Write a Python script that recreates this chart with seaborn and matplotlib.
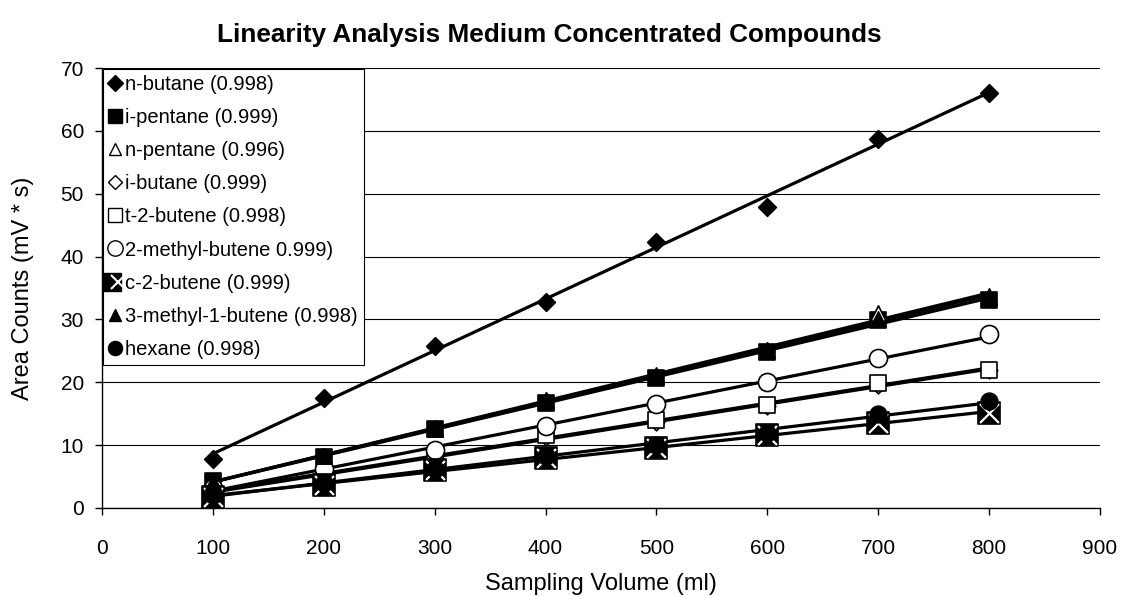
import numpy as np
import pandas as pd
import matplotlib
matplotlib.use("Agg")
import matplotlib.pyplot as plt
from matplotlib.lines import Line2D
from matplotlib.legend_handler import HandlerTuple
import seaborn as sns

volume = [100, 200, 300, 400, 500, 600, 700, 800]
n_butane = [7.8, 17.5, 25.8, 32.8, 42.3, 47.9, 58.7, 66.1]
i_pentane = [4.3, 8.1, 12.5, 16.7, 20.7, 24.8, 29.9, 33.1]
n_pentane = [4.2, 8.3, 12.7, 17.2, 21.2, 25.2, 31.0, 33.6]
i_butane = [2.5, 5.2, 8.0, 11.3, 13.7, 16.3, 19.5, 22.0]
t_2_butene = [2.6, 5.3, 8.2, 11.6, 14.0, 16.4, 19.9, 21.9]
methyl_butene = [3.2, 6.2, 9.3, 13.0, 16.5, 20.0, 23.8, 27.6]
c_2_butene = [1.8, 3.7, 6.0, 8.0, 9.6, 11.6, 13.5, 15.1]
methyl_1_butene = [4.2, 8.3, 12.6, 17.2, 21.0, 25.1, 30.0, 33.8]
hexane = [2.0, 4.0, 6.2, 8.3, 10.0, 12.0, 14.9, 17.0]

labels = ["n-butane (0.998)", "i-pentane (0.999)", "n-pentane (0.996)",
          "i-butane (0.999)", "t-2-butene (0.998)", "2-methyl-butene 0.999)",
          "c-2-butene (0.999)", "3-methyl-1-butene (0.998)", "hexane (0.998)"]
series = [n_butane, i_pentane, n_pentane, i_butane, t_2_butene,
          methyl_butene, c_2_butene, methyl_1_butene, hexane]

# marker, markersize(pt), filled
styles = [("D", 9, True), ("s", 12, True), ("^", 11, False), ("D", 8.5, False),
          ("s", 12, False), ("o", 13, False), ("s", 16, True), ("^", 11, True),
          ("o", 12, True)]

sns.set_theme(style="white")
plt.rcParams["font.family"] = ["Liberation Sans", "DejaVu Sans"]
plt.rcParams["text.color"] = "black"

fig = plt.figure(figsize=(11.22, 5.96), dpi=100)
ax = fig.add_axes([0.0909, 0.1477, 0.8895, 0.7382])

for ys in series:
    sns.regplot(x=volume, y=ys, scatter=False, ci=None, truncate=True, ax=ax,
                line_kws=dict(color="black", lw=2.3, zorder=3))

handles = []
for i, (ys, (m, ms, filled)) in enumerate(zip(series, styles)):
    face = "black" if filled else "white"
    sns.scatterplot(x=volume, y=ys, marker=m, s=ms ** 2, color=face,
                    edgecolor="black", linewidth=1.2, ax=ax, zorder=4 + i * 0.1)
    h = Line2D([], [], ls="none", marker=m, markersize=ms * 0.85,
               markerfacecolor=face, markeredgecolor="black", markeredgewidth=1.0)
    if i == 6:
        ax.scatter(volume, ys, marker="x", s=(ms * 0.85) ** 2, c="white",
                   linewidths=1.6, zorder=4 + i * 0.1 + 0.05)
        hx = Line2D([], [], ls="none", marker="x", markersize=ms * 0.65,
                    color="white", markeredgecolor="white", markeredgewidth=1.5)
        h = (h, hx)
    handles.append(h)

ax.set_xlim(0, 900)
ax.set_ylim(0, 70)
ax.set_xticks(range(0, 901, 100))
ax.set_yticks(range(0, 71, 10))
ax.yaxis.grid(True, color="black", lw=0.8)
ax.xaxis.grid(False)
ax.set_axisbelow(True)
for s in ["top", "right"]:
    ax.spines[s].set_visible(False)
for s in ["left", "bottom"]:
    ax.spines[s].set_color("black")
    ax.spines[s].set_linewidth(1.0)
ax.tick_params(axis="both", direction="out", length=5, width=1, color="black",
               labelsize=15, labelcolor="black", bottom=True, left=True)
ax.tick_params(axis="x", pad=17)
ax.tick_params(axis="y", pad=8)
ax.set_xlabel("Sampling Volume (ml)", fontsize=17, color="black")
ax.set_ylabel("Area Counts (mV * s)", fontsize=17, color="black")
ax.xaxis.set_label_coords(0.5, -0.148)
ax.yaxis.set_label_coords(-0.068, 0.5)
fig.suptitle("Linearity Analysis Medium Concentrated Compounds", fontsize=18.8,
             fontweight="bold", color="black", x=0.49, y=0.962)

leg = ax.legend(handles, labels, loc="upper left", bbox_to_anchor=(0.0, 1.0),
                borderaxespad=0.05, frameon=True, fancybox=False, fontsize=14.5,
                handler_map={tuple: HandlerTuple(ndivide=None, pad=0)},
                handlelength=0.6, handletextpad=0.2, labelspacing=0.7,
                borderpad=0.3)
leg.get_frame().set_edgecolor("black")
leg.get_frame().set_linewidth(0.8)
leg.get_frame().set_alpha(1)
leg.set_zorder(10)

fig.savefig("out.png", dpi=100)
